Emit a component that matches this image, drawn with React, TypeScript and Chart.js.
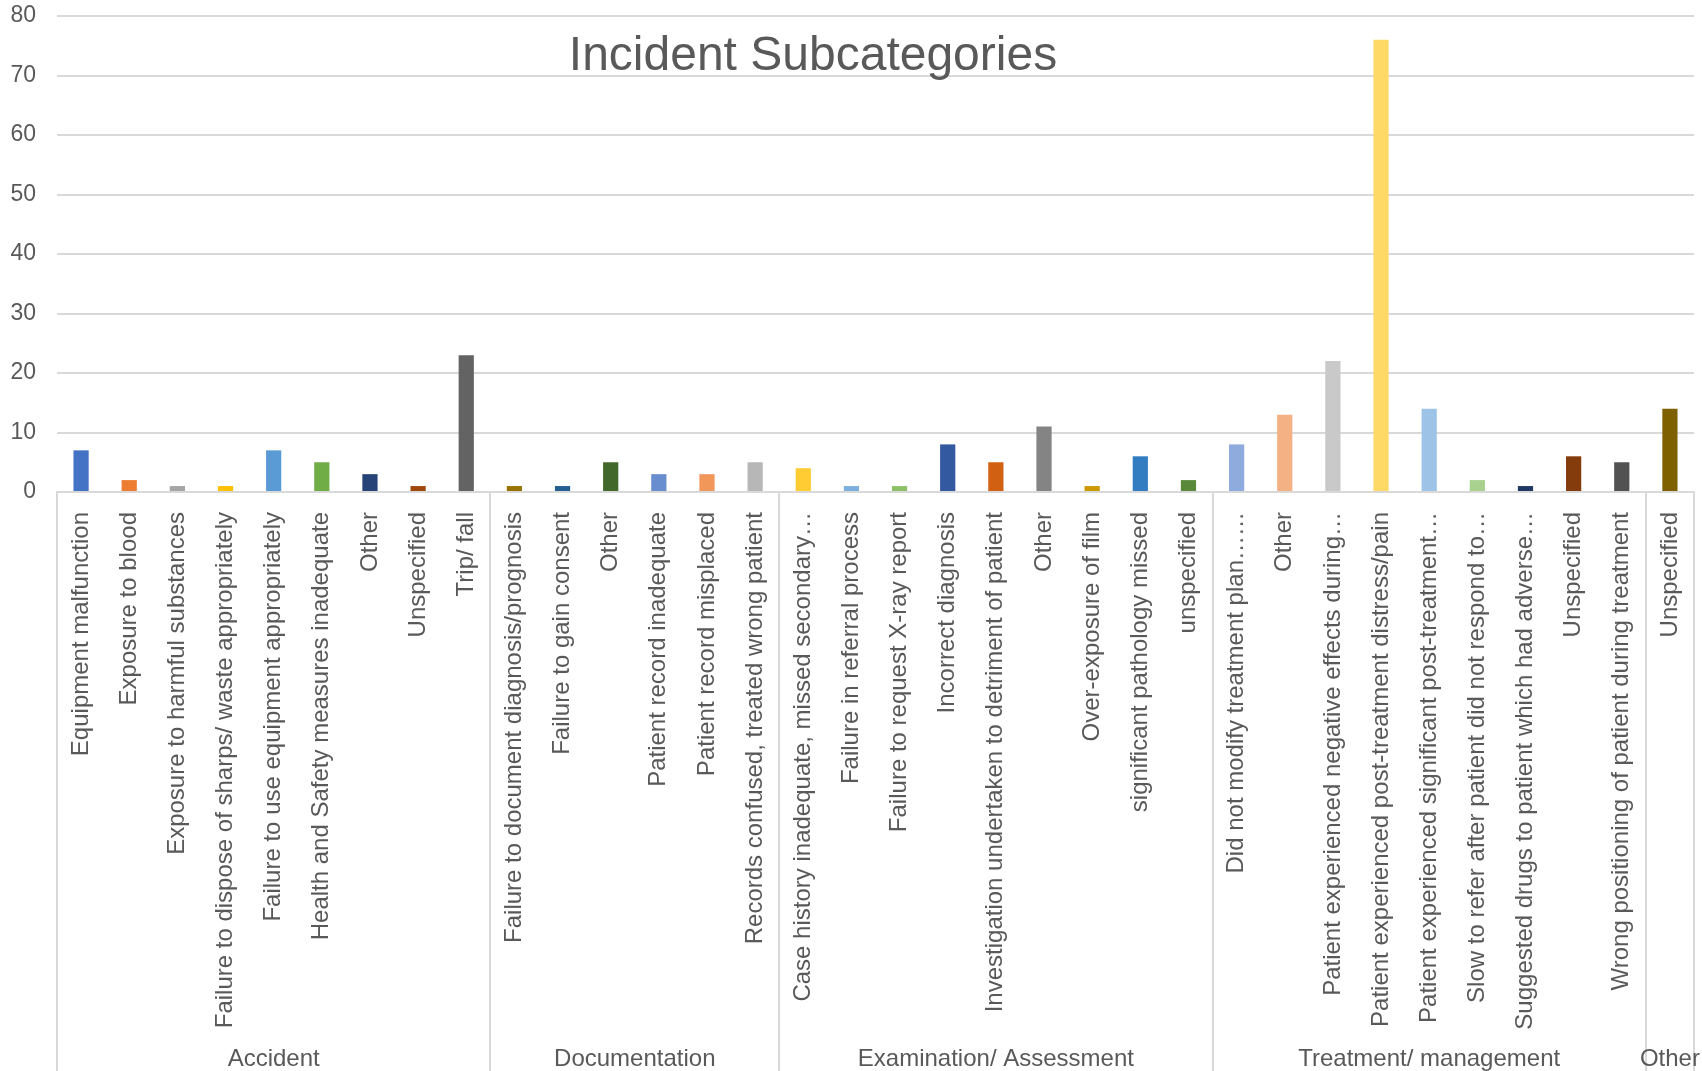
import React, { useEffect, useRef } from "react";
import { Chart, registerables } from "chart.js";

Chart.register(...registerables);

const TITLE = "Incident Subcategories";

const groupNames = ["Accident", "Documentation", "Examination/ Assessment", "Treatment/ management", "Other"];
const groupSizes = [9, 6, 9, 9, 1];

const categories = [
  "Equipment malfunction",
  "Exposure to blood",
  "Exposure to harmful substances",
  "Failure to dispose of sharps/ waste appropriately",
  "Failure to use equipment appropriately",
  "Health and Safety measures inadequate",
  "Other",
  "Unspecified",
  "Trip/ fall",
  "Failure to document diagnosis/prognosis",
  "Failure to gain consent",
  "Other",
  "Patient record inadequate",
  "Patient record misplaced",
  "Records confused, treated wrong patient",
  "Case history inadequate, missed secondary…",
  "Failure in referral process",
  "Failure to request X-ray report",
  "Incorrect diagnosis",
  "Investigation undertaken to detriment of patient",
  "Other",
  "Over-exposure of film",
  "significant pathology missed",
  "unspecified",
  "Did not modify treatment plan……",
  "Other",
  "Patient experienced negative effects during…",
  "Patient experienced post-treatment distress/pain",
  "Patient experienced significant post-treatment…",
  "Slow to refer after patient did not respond to…",
  "Suggested drugs to patient which had adverse…",
  "Unspecified",
  "Wrong positioning of patient during treatment",
  "Unspecified",
];

const counts = [
  7, 2, 1, 1, 7, 5, 3, 1, 23,
  1, 1, 5, 3, 3, 5,
  4, 1, 1, 8, 5, 11, 1, 6, 2,
  8, 13, 22, 76, 14, 2, 1, 6, 5,
  14,
];

const barColors = [
  "#4472C4", "#ED7D31", "#A5A5A5", "#FFC000", "#5B9BD5", "#70AD47", "#264478", "#9E480E", "#636363",
  "#997300", "#255E91", "#43682B", "#698ED0", "#F1975A", "#B7B7B7",
  "#FFCD33", "#7CAFDD", "#8CC168", "#335AA1", "#D26012", "#848484", "#CC9A00", "#327DC2", "#5A8A39",
  "#8FAADC", "#F4B183", "#C9C9C9", "#FFD966", "#9DC3E6", "#A9D18E", "#203864", "#843C0C", "#525252",
  "#7F6000",
];

const yTicks = [0, 10, 20, 30, 40, 50, 60, 70, 80];

const FONT = "'Liberation Sans', Arial, sans-serif";
const TEXT = "#595959";
const GRID = "#D9D9D9";

const overlayPlugin = {
  id: "overlay",
  afterDraw(chart: any) {
    const { ctx, chartArea } = chart;
    const x = chart.scales.x;
    const n = categories.length;
    const step = (x.right - x.left) / n;
    const H = chart.height;
    ctx.save();
    ctx.strokeStyle = GRID;
    ctx.lineWidth = 2;
    let idx = 0;
    const bounds = [0];
    groupSizes.forEach((s) => {
      idx += s;
      bounds.push(idx);
    });
    bounds.forEach((b) => {
      const px = Math.round(x.left + b * step);
      ctx.beginPath();
      ctx.moveTo(px, chartArea.bottom);
      ctx.lineTo(px, H);
      ctx.stroke();
    });
    ctx.fillStyle = TEXT;
    ctx.font = `24px ${FONT}`;
    ctx.textAlign = "center";
    ctx.textBaseline = "alphabetic";
    groupNames.forEach((g, i) => {
      const cx = x.left + ((bounds[i] + bounds[i + 1]) / 2) * step;
      ctx.fillText(g, cx, H - 5);
    });
    ctx.font = `48px ${FONT}`;
    ctx.fillText(TITLE, 813, 70);
    ctx.restore();
  },
};

export default function App() {
  const ref = useRef<HTMLCanvasElement | null>(null);
  useEffect(() => {
    if (!ref.current) return;
    const chart = new Chart(ref.current, {
      type: "bar",
      data: {
        labels: categories,
        datasets: [
          {
            data: counts,
            backgroundColor: barColors,
            borderWidth: 0,
            categoryPercentage: 1,
            barPercentage: 0.316,
          },
        ],
      },
      options: {
        animation: false,
        responsive: true,
        maintainAspectRatio: false,
        layout: { padding: { top: 16, right: 8, left: 0, bottom: 0 } },
        plugins: { legend: { display: false }, tooltip: { enabled: false }, title: { display: false } },
        scales: {
          x: {
            grid: { display: false, drawTicks: false },
            border: { display: true, color: GRID, width: 2 },
            ticks: {
              autoSkip: false,
              minRotation: 90,
              maxRotation: 90,
              padding: 20,
              color: TEXT,
              font: { family: FONT, size: 24 },
            },
            afterFit: (s: any) => {
              s.height = 579;
              s.paddingLeft = 0;
              s.paddingRight = 0;
              s.paddingTop = 0;
              s.paddingBottom = 0;
            },
          },
          y: {
            min: 0,
            max: 80,
            afterBuildTicks: (s: any) => {
              s.ticks = yTicks.map((v) => ({ value: v }));
            },
            grid: { color: GRID, lineWidth: 2, drawTicks: false },
            border: { display: false },
            ticks: {
              padding: 21,
              color: TEXT,
              font: { family: FONT, size: 23 },
            },
            afterFit: (s: any) => {
              s.width = 57;
              s.paddingTop = 0;
              s.paddingBottom = 0;
              s.paddingLeft = 0;
              s.paddingRight = 0;
            },
          },
        },
      },
      plugins: [overlayPlugin],
    });
    return () => chart.destroy();
  }, []);
  return (
    <div style={{ position: "fixed", left: 0, top: 0, width: 1702, height: 1071, background: "#fff" }}>
      <canvas ref={ref} />
    </div>
  );
}
